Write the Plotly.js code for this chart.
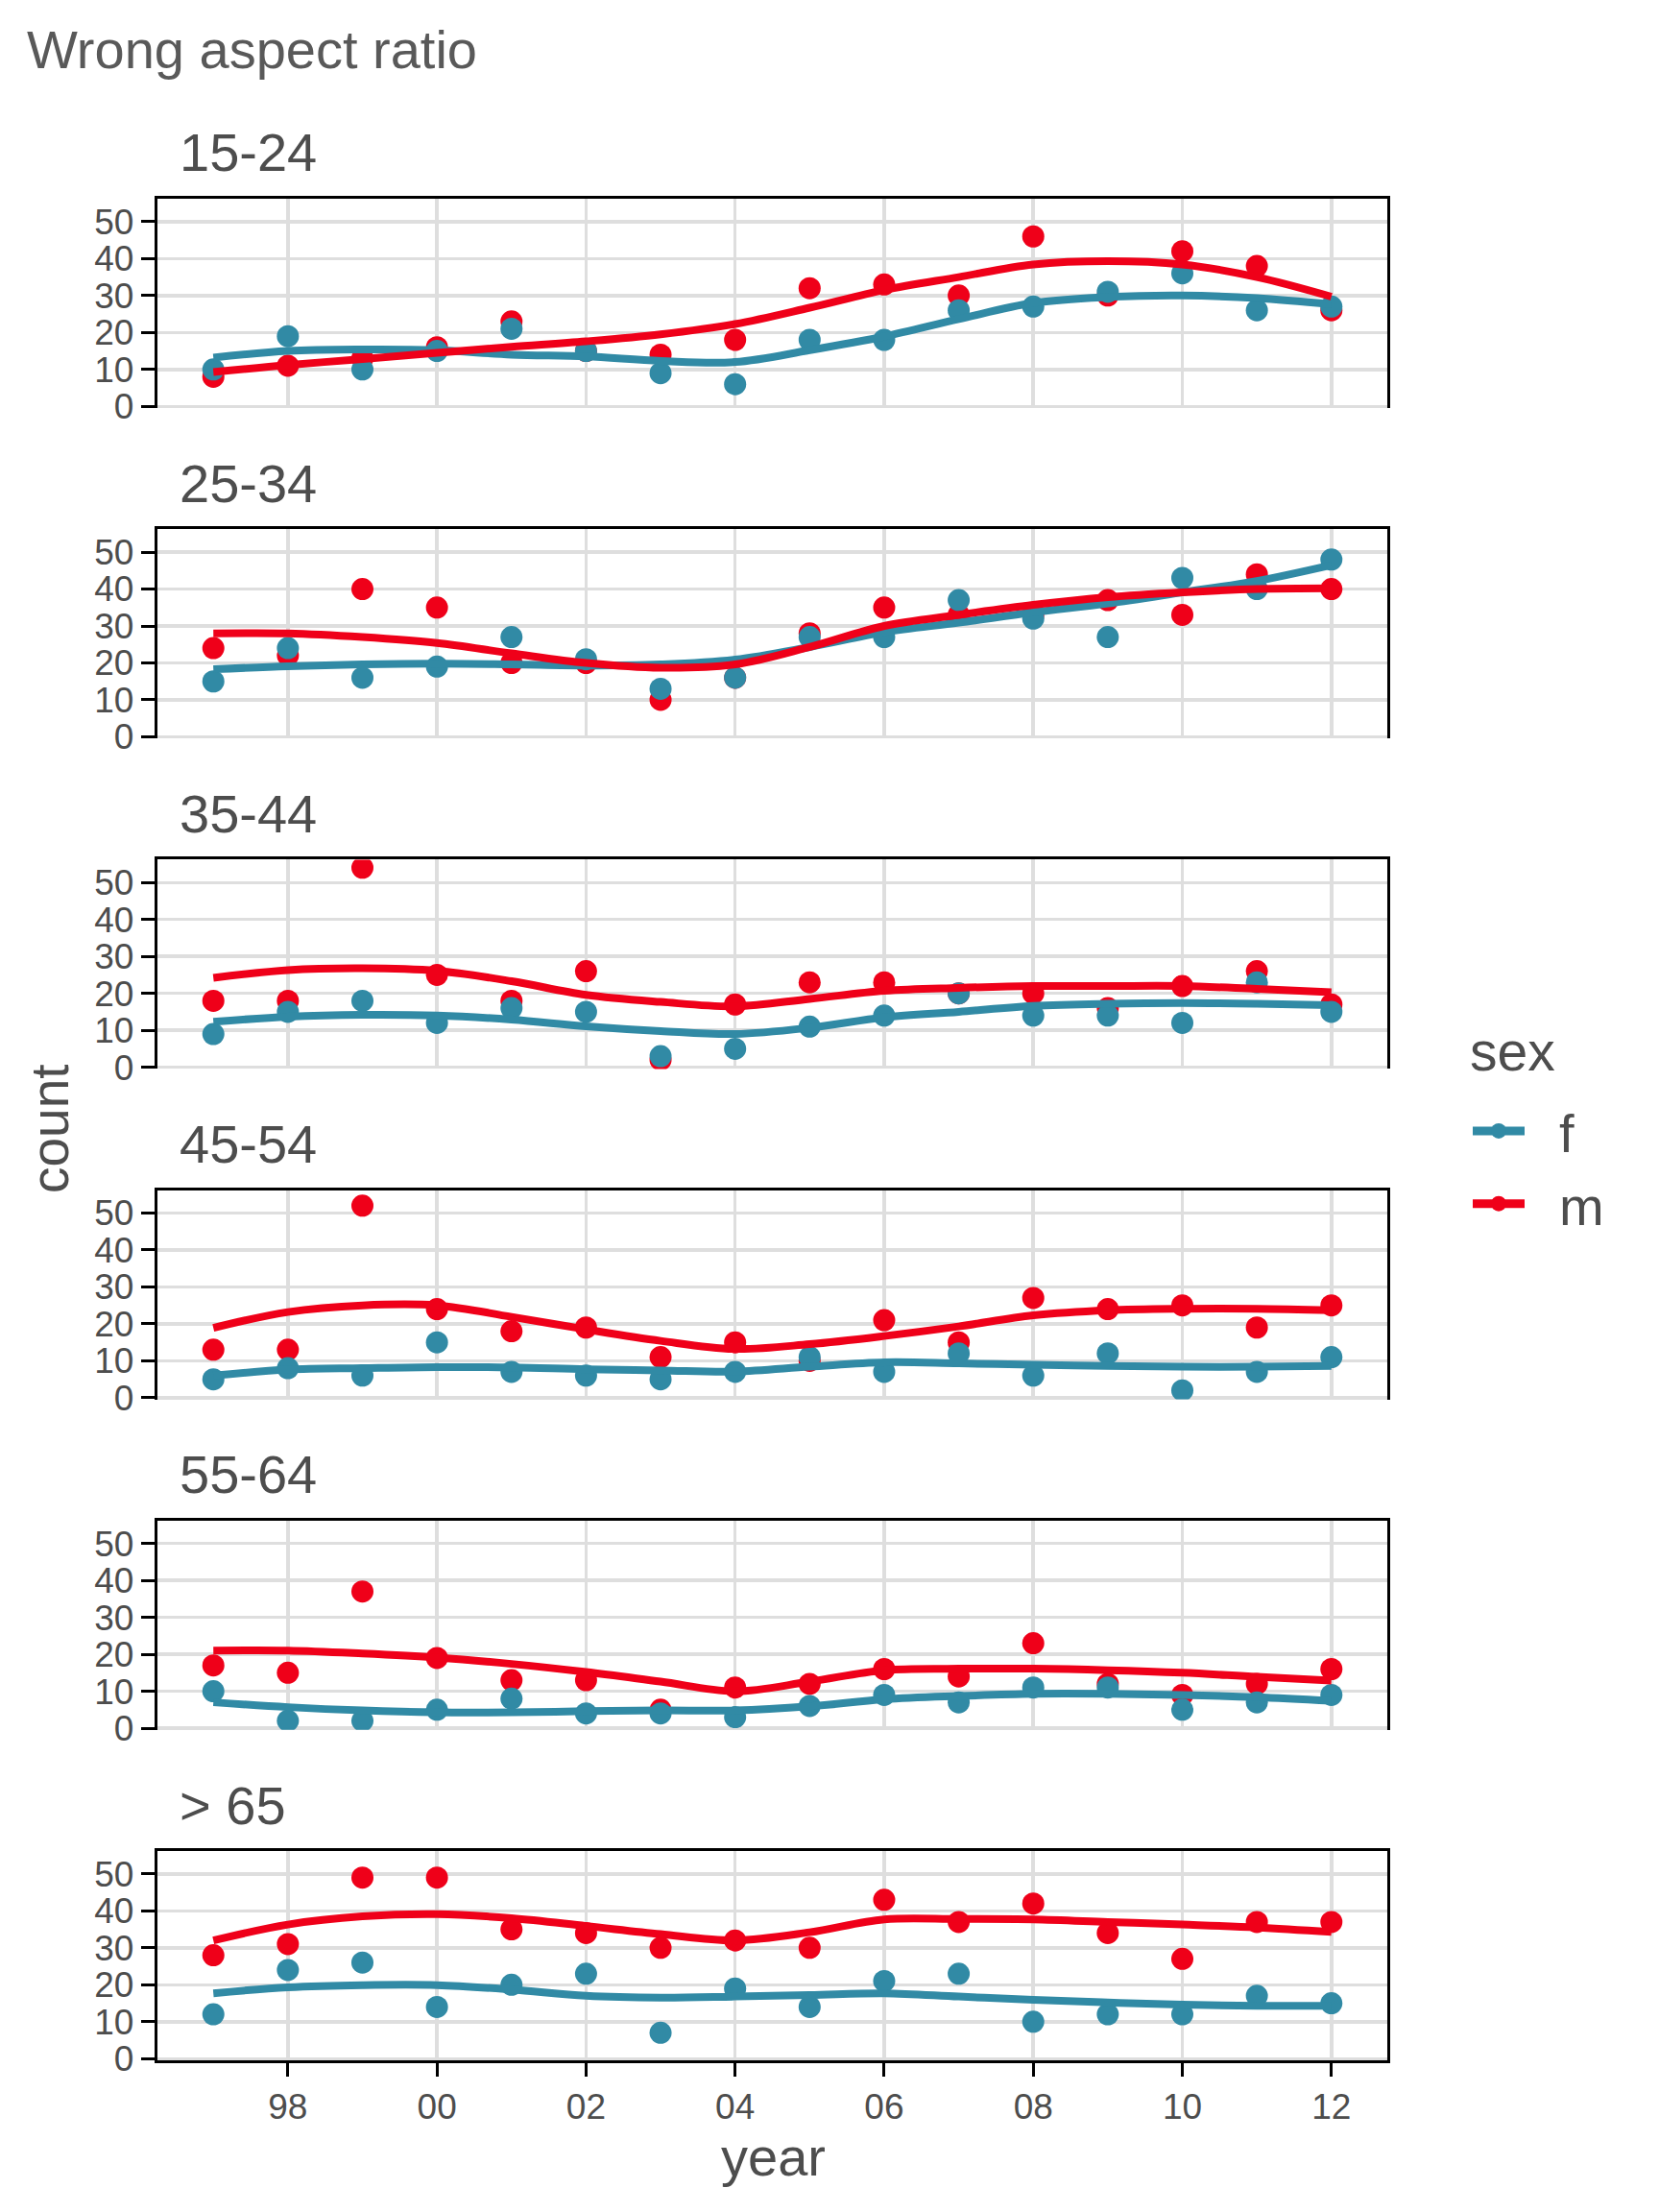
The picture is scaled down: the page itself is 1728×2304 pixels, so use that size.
<!DOCTYPE html>
<html>
<head>
<meta charset="utf-8">
<script src="https://cdn.plot.ly/plotly-3.0.1.min.js"></script>
<style>
  html, body { margin: 0; padding: 0; background: #fff; }
  #plot { width: 1728px; height: 2304px; }
</style>
</head>
<body>
<div id="plot"></div>
<script>
// values
var ageGroups = ['15-24', '25-34', '35-44', '45-54', '55-64', '> 65'];
var years = [1997, 1998, 1999, 2000, 2001, 2002, 2003, 2004, 2005, 2006, 2007, 2008, 2009, 2010, 2011, 2012];
var yearTicks = [1998, 2000, 2002, 2004, 2006, 2008, 2010, 2012];
var yearLabels = ['98', '00', '02', '04', '06', '08', '10', '12'];
var countTicks = [0, 10, 20, 30, 40, 50];
var sexes = ['f', 'm'];

var femaleCounts = [
  [10, 19, 10, 15, 21, 15, 9, 6, 18, 18, 26, 27, 31, 36, 26, 27],
  [15, 24, 16, 19, 27, 21, 13, 16, 27, 27, 37, 32, 27, 43, 40, 48],
  [9, 15, 18, 12, 16, 15, 3, 5, 11, 14, 20, 14, 14, 12, 23, 15],
  [5, 8, 6, 15, 7, 6, 5, 7, 11, 7, 12, 6, 12, 2, 7, 11],
  [10, 2, 2, 5, 8, 4, 4, 3, 6, 9, 7, 11, 11, 5, 7, 9],
  [12, 24, 26, 14, 20, 23, 7, 19, 14, 21, 23, 10, 12, 12, 17, 15]
];
var maleCounts = [
  [8, 11, 13, 16, 23, 15, 14, 18, 32, 33, 30, 46, 30, 42, 38, 26],
  [24, 22, 40, 35, 20, 20, 10, 16, 28, 35, 33, 33, 37, 33, 44, 40],
  [18, 18, 54, 25, 18, 26, 2, 17, 23, 23, 20, 20, 16, 22, 26, 17],
  [13, 13, 52, 24, 18, 19, 11, 15, 10, 21, 15, 27, 24, 25, 19, 25],
  [17, 15, 37, 19, 13, 13, 5, 11, 12, 16, 14, 23, 12, 9, 12, 16],
  [28, 31, 49, 49, 35, 34, 30, 32, 30, 43, 37, 42, 34, 27, 37, 37]
];
var femaleSmooth = [
  [13.2, 15, 15.4, 15.2, 14, 13.5, 12.3, 12, 15.2, 18.9, 23.6, 28, 29.6, 30, 29.3, 27.6],
  [18.3, 19.1, 19.6, 19.8, 19.6, 19.3, 19.6, 20.9, 24.3, 28.3, 30.9, 33.7, 36.1, 39.1, 42.2, 46.5],
  [12.3, 13.7, 14.2, 14, 12.9, 11.1, 9.8, 9, 10.7, 13.5, 15, 16.6, 17.2, 17.4, 17.2, 16.8],
  [6, 7.6, 8, 8.3, 8.2, 7.7, 7.4, 7.1, 8.4, 9.6, 9.3, 8.9, 8.6, 8.4, 8.4, 8.6],
  [7, 5.7, 4.8, 4.3, 4.3, 4.6, 4.8, 4.8, 5.9, 7.8, 8.7, 9.3, 9.3, 9, 8.4, 7.4],
  [17.7, 19.3, 19.9, 19.9, 18.7, 17, 16.5, 16.8, 17.2, 17.7, 16.8, 15.9, 15.2, 14.6, 14.3, 14.3]
];
var maleSmooth = [
  [9.3, 11.2, 12.8, 14.5, 16.1, 17.6, 19.5, 22.3, 26.7, 31.5, 35, 38.4, 39.3, 38.4, 35, 29.7],
  [28, 28, 27, 25.4, 22.6, 20, 18.7, 19.6, 24.3, 30, 33, 35.7, 37.8, 39.1, 40, 40.2],
  [24.2, 26.3, 26.8, 26.1, 23.3, 19.6, 17.7, 16.5, 18.5, 20.7, 21.5, 22, 22, 22, 21.2, 20.3],
  [18.9, 23.2, 25, 25, 21.9, 18.5, 15.4, 13.2, 14.5, 16.7, 19.3, 22.3, 23.7, 24.1, 24.1, 23.7],
  [21, 21, 20.2, 19.1, 17.4, 15.2, 12.6, 10, 12.6, 15.7, 16.1, 16.1, 15.7, 15, 13.9, 12.9],
  [32, 36.3, 38.5, 39.1, 38, 35.9, 33.7, 32, 34.2, 37.7, 37.8, 37.7, 37, 36.3, 35.5, 34.3]
];

var colF = '#318aa5';
var colM = '#ef0019';
var textCol = '#4d4d4d';
var fontFam = 'Liberation Sans, Arial, Helvetica, sans-serif';

// pixel layout of the panels
var plotLeft = 164, plotRight = 1445, plotTop = 207, plotBottom = 2146;
var panelH = 218, panelStep = 344.2;
var plotH = plotBottom - plotTop, plotW = plotRight - plotLeft;

function paperY(px) { return (plotBottom - px) / plotH; }
function paperX(px) { return (px - plotLeft) / plotW; }

var data = [];
var layout = {
  width: 1728,
  height: 2304,
  margin: { l: plotLeft, r: 1728 - plotRight, t: plotTop, b: 2304 - plotBottom },
  paper_bgcolor: '#fff',
  plot_bgcolor: '#fff',
  font: { family: fontFam, color: textCol },
  title: {
    text: 'Wrong aspect ratio',
    x: 28 / 1728, xref: 'container', xanchor: 'left',
    y: 1 - 51 / 2304, yref: 'container', yanchor: 'middle',
    font: { size: 56, color: '#595959', family: fontFam }
  },
  showlegend: true,
  legend: {
    x: paperX(1529), xanchor: 'left',
    y: paperY(1135), yanchor: 'top',
    font: { size: 56, color: textCol },
    itemwidth: 54,
    tracegroupgap: 0,
    bgcolor: 'rgba(0,0,0,0)'
  },
  annotations: [],
  shapes: []
};

ageGroups.forEach(function (group, i) {
  var n = i + 1;
  var xa = 'x' + (n === 1 ? '' : n);
  var ya = 'y' + (n === 1 ? '' : n);
  var top = plotTop + i * panelStep;
  var bottom = top + panelH;
  var last = (i === ageGroups.length - 1);

  data.push({ x: years, y: maleCounts[i], xaxis: xa, yaxis: ya, type: 'scatter', mode: 'markers',
    marker: { color: colM, size: 23 }, showlegend: false, hoverinfo: 'x+y' });
  data.push({ x: years, y: femaleCounts[i], xaxis: xa, yaxis: ya, type: 'scatter', mode: 'markers',
    marker: { color: colF, size: 23 }, showlegend: false, hoverinfo: 'x+y' });
  data.push({ x: years, y: femaleSmooth[i], xaxis: xa, yaxis: ya, type: 'scatter', mode: 'lines',
    line: { color: colF, width: 8, shape: 'spline', smoothing: 1 }, showlegend: false, hoverinfo: 'skip' });
  data.push({ x: years, y: maleSmooth[i], xaxis: xa, yaxis: ya, type: 'scatter', mode: 'lines',
    line: { color: colM, width: 8, shape: 'spline', smoothing: 1 }, showlegend: false, hoverinfo: 'skip' });

  var xAxis = {
    domain: [0, 1],
    anchor: ya,
    range: [1996.25, 2012.75],
    tickvals: yearTicks,
    ticktext: yearLabels,
    showgrid: true,
    gridcolor: '#dedede',
    gridwidth: 3.5,
    zeroline: false,
    showline: true,
    linecolor: '#000',
    linewidth: 3,
    fixedrange: true
  };
  if (last) {
    xAxis.side = 'bottom';
    xAxis.mirror = true;
    xAxis.ticks = 'outside';
    xAxis.ticklen = 14;
    xAxis.tickwidth = 3;
    xAxis.tickcolor = '#000';
    xAxis.tickfont = { size: 37, color: textCol };
  } else {
    xAxis.side = 'top';
    xAxis.ticks = '';
    xAxis.showticklabels = false;
  }
  layout['xaxis' + (n === 1 ? '' : n)] = xAxis;

  layout['yaxis' + (n === 1 ? '' : n)] = {
    domain: [Math.max(0, paperY(bottom)), Math.min(1, paperY(top))],
    anchor: xa,
    range: [-0.45, 56.2],
    tickvals: countTicks,
    showgrid: true,
    gridcolor: '#dedede',
    gridwidth: 3.5,
    zeroline: false,
    showline: true,
    mirror: true,
    linecolor: '#000',
    linewidth: 3.3,
    ticks: 'outside',
    ticklen: 14,
    tickwidth: 3,
    tickcolor: '#000',
    tickfont: { size: 37, color: textCol },
    fixedrange: true
  };

  // facet strip label
  layout.annotations.push({
    text: group, xref: 'paper', yref: 'paper',
    x: paperX(185), xanchor: 'left',
    y: paperY(top - 48), yanchor: 'middle',
    showarrow: false,
    font: { size: 56, color: textCol }
  });
});

// legend entries (line with dot, like the reference key)
var legendCols = [colF, colM];
sexes.forEach(function (s, k) {
  data.push({ x: [null], y: [null], xaxis: 'x6', yaxis: 'y6', type: 'scatter', mode: 'lines+markers',
    name: '\u00a0\u00a0' + s,
    line: { color: legendCols[k], width: 9 }, marker: { color: legendCols[k], size: 20 }, hoverinfo: 'skip' });
});

// legend title and axis titles
layout.annotations.push({
  text: 'sex', xref: 'paper', yref: 'paper',
  x: paperX(1529), xanchor: 'left', y: paperY(1095), yanchor: 'middle',
  showarrow: false, font: { size: 57, color: textCol }
});
layout.annotations.push({
  text: 'count', xref: 'paper', yref: 'paper',
  x: paperX(52), xanchor: 'center', y: paperY(1176), yanchor: 'middle',
  textangle: -90, showarrow: false, font: { size: 55, color: textCol }
});
layout.annotations.push({
  text: 'year', xref: 'paper', yref: 'paper',
  x: paperX(805), xanchor: 'center', y: paperY(2246), yanchor: 'middle',
  showarrow: false, font: { size: 56, color: textCol }
});

Plotly.newPlot('plot', data, layout, { displayModeBar: false, staticPlot: true });
</script>
</body>
</html>
